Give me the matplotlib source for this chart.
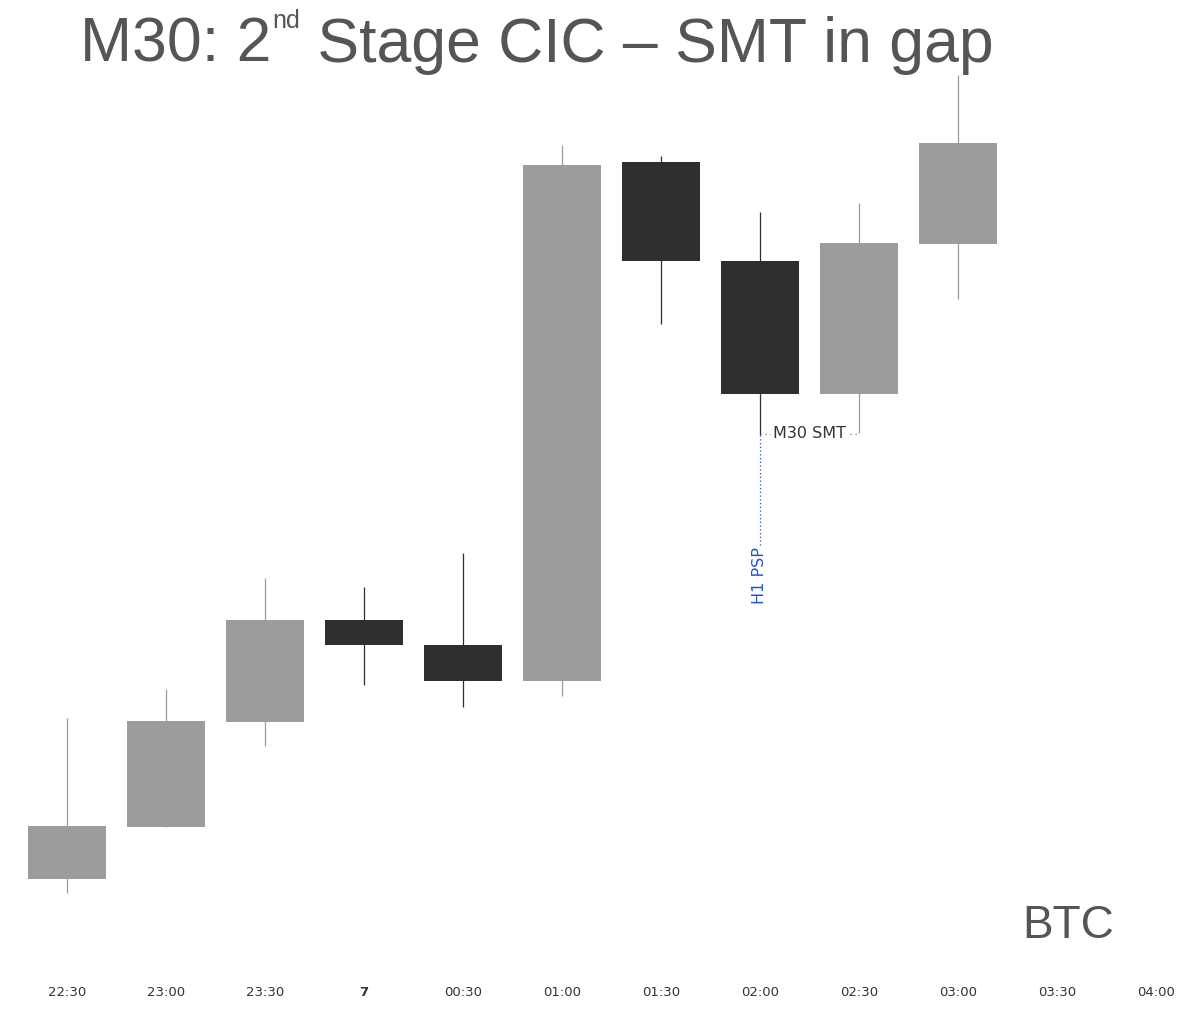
import matplotlib
matplotlib.use('Agg')
import numpy as np
import matplotlib.pyplot as plt

# candle data (arbitrary price units)
times = ['22:30', '23:00', '23:30', '7', '00:30', '01:00', '01:30', '02:00', '02:30', '03:00', '03:30', '04:00']
opens = [121, 173, 278, 380, 355, 319, 838, 739, 606, 756]
closes = [174, 279, 380, 355, 319, 835, 739, 606, 757, 857]
highs = [282, 311, 422, 413, 447, 855, 844, 788, 797, 925]
lows = [107, 173, 254, 315, 293, 304, 676, 565, 567, 701]

# annotation levels
smt_level = 566
psp_bottom = 455

GRAY = '#9c9c9c'
DARK = '#2f2f2f'
TXT = '#555555'

W, H = 1199, 1017
fig = plt.figure(figsize=(W / 100, H / 100), dpi=100)
ax = fig.add_axes([0, 1 - 950 / H, 1, 880 / H])
ax.set_xlim(-67 / 99, (W - 67) / 99)
ax.set_ylim(50, 930)

x = np.arange(len(opens))
for i in x:
    o, c, hi, lo = opens[i], closes[i], highs[i], lows[i]
    col = GRAY if c >= o else DARK
    ax.vlines(i, lo, hi, color=col, lw=0.9, zorder=1)
    ax.bar(i, abs(c - o), bottom=min(o, c), width=0.79, color=col, zorder=2)

# M30 SMT dotted line + label
ax.hlines(smt_level, 7, 8, color='#777777', lw=0.9, linestyles=(0, (1, 3)), zorder=1)
ax.text(7.5, smt_level, 'M30 SMT', ha='center', va='center', fontsize=11.5, color='#333333',
        family='DejaVu Sans', bbox=dict(facecolor='white', edgecolor='none', pad=1.5), zorder=3)

# H1 PSP
ax.vlines(7, psp_bottom, smt_level, color='#2255cc', lw=0.9, linestyles=(0, (1, 2)), zorder=1)
ax.text(7, psp_bottom - 2, 'H1 PSP', ha='center', va='top', rotation=90, fontsize=11.5,
        color='#2255cc', family='DejaVu Sans')

ax.set_xticks(np.arange(len(times)))
ax.set_xticklabels(times, fontsize=9.5, color='#333333', family='DejaVu Sans')
for lab in ax.get_xticklabels():
    if lab.get_text() == '7':
        lab.set_fontweight('bold')
ax.tick_params(axis='x', length=0, pad=26)
ax.set_yticks([])
for s in ax.spines.values():
    s.set_visible(False)

# title built from pieces so the "nd" is a real superscript
r = fig.canvas.get_renderer()
t1 = fig.text(80 / W, 1 - 62 / H, 'M30: 2', fontsize=45, color=TXT, family='Liberation Sans', va='baseline')
bb = t1.get_window_extent(r)
t2 = fig.text(bb.x1 / W + 1 / W, 1 - 28 / H, 'nd', fontsize=18, color=TXT, family='Liberation Sans', va='baseline')
bb2 = t2.get_window_extent(r)
fig.text(bb2.x1 / W, 1 - 62 / H, ' Stage CIC \u2013 SMT in gap', fontsize=45, color=TXT,
         family='Liberation Sans', va='baseline')

fig.text(1022 / W, 1 - 938 / H, 'BTC', fontsize=33, color=TXT, family='Liberation Sans', va='baseline')

fig.savefig('out.png', dpi=100, facecolor='white')
